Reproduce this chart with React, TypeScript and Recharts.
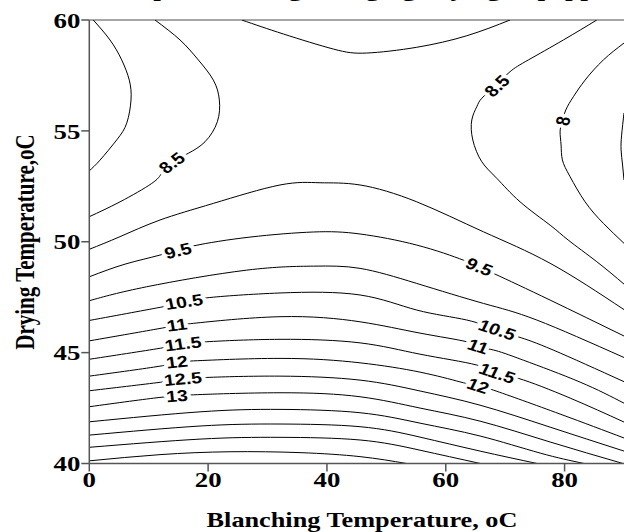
import { ComposedChart, Line, Scatter, XAxis, YAxis, ReferenceLine, Label } from "recharts";

// contour lines: [blanching °C, drying °C]
const c8Left: [number, number][] = [[0.67, 60], [3.48, 59.1], [5.45, 58.2], [6.73, 57.29], [7.02, 56.39], [6.3, 55.35], [4.61, 54.59], [1.8, 53.68], [0, 53.2]];
const c85Left: [number, number][] = [[11.06, 60], [15.27, 59.1], [18.35, 58.2], [20.88, 57.29], [21.89, 56.39], [21.55, 55.41], [19.48, 54.51], [16.67, 53.99], [13.92, 53.55], [12.19, 53.09], [10.51, 52.63], [5.17, 51.8], [0, 51.13]];
const c9Top: [number, number][] = [[25.66, 60], [32.66, 59.37], [41.08, 58.69], [46.7, 58.51], [55.12, 58.77], [63.54, 59.29], [70.82, 60]];
const c85Right: [number, number][] = [[85.42, 60], [79.8, 59.1], [73.91, 58.2], [70.82, 57.67], [68.3, 57.02], [66.06, 56.47], [65.22, 56.09], [64.38, 55.49], [64.55, 54.59], [66.06, 53.61], [68.59, 52.86], [72.51, 51.8], [77.56, 50.75], [80.59, 50.08], [85.42, 49.1], [90, 48.09]];
const c8Right: [number, number][] = [[90, 58.96], [86.53, 58.2], [83.45, 57.29], [81.48, 56.54], [80.2, 55.94], [79.58, 55.4], [79.24, 54.96], [79.41, 54.36], [79.63, 53.69], [80.93, 52.93], [83.45, 51.8], [86.53, 50.83], [90, 49.93]];
const c75Right: [number, number][] = [[90, 55.81], [89.6, 54.81], [89.51, 54.14], [89.76, 53.46], [90, 52.78]];
const c9: [number, number][] = [[0, 49.66], [5.17, 50.23], [11.9, 50.98], [20.88, 51.73], [32.1, 52.56], [38.84, 52.66], [45.57, 52.56], [55.12, 51.8], [66.33, 50.45], [77.56, 49.03], [90, 46.94]];
const c95: [number, number][] = [[0, 48.42], [6.01, 48.99], [11.9, 49.4], [17.51, 49.81], [27.05, 50.21], [37.71, 50.44], [45.57, 50.35], [55.12, 49.85], [62.96, 49.17], [65.61, 48.86], [68.3, 48.54], [77.56, 47.37], [90, 45.75]];
const c10: [number, number][] = [[0, 47.34], [9.66, 47.97], [26.5, 48.72], [37.71, 48.9], [45.57, 48.8], [55.12, 48.12], [66.33, 47.22], [75.32, 46.47], [90, 44.78]];
const c105: [number, number][] = [[0, 46.45], [12.46, 47.07], [16.11, 47.28], [19.76, 47.47], [32.1, 47.69], [45.57, 47.6], [55.12, 46.92], [63.54, 46.47], [68.59, 46.02], [72.22, 45.71], [78.06, 45.12], [90, 43.69]];
const c11: [number, number][] = [[0, 45.53], [11.9, 46.09], [14.76, 46.24], [17.51, 46.32], [32.1, 46.62], [45.57, 46.39], [55.67, 45.88], [63.54, 45.49], [65.44, 45.26], [68.01, 45.12], [73.06, 44.66], [82.61, 43.67], [90, 42.72]];
const c115: [number, number][] = [[0, 44.7], [12.46, 45.22], [15.77, 45.39], [19.76, 45.49], [32.1, 45.6], [45.57, 45.44], [55.67, 44.93], [65.22, 44.44], [68.59, 44.06], [72.22, 43.84], [80.93, 42.95], [90, 41.87]];
const c12: [number, number][] = [[0, 43.94], [11.9, 44.39], [14.76, 44.57], [16.95, 44.62], [32.1, 44.74], [45.57, 44.54], [55.67, 44.12], [62.41, 43.68], [65.44, 43.49], [68.01, 43.31], [79.24, 42.23], [90, 41.15]];
const c125: [number, number][] = [[0, 43.28], [12.46, 43.68], [15.77, 43.81], [19.76, 43.88], [32.1, 43.94], [45.57, 43.76], [55.67, 43.27], [65.77, 42.63], [77.56, 41.64], [90, 40.56]];
const c13: [number, number][] = [[0, 42.56], [11.9, 42.98], [14.76, 43.04], [16.95, 43.09], [32.1, 43.19], [45.57, 43.01], [55.67, 42.5], [65.77, 41.91], [77.56, 40.97], [89.83, 40]];
const c135: [number, number][] = [[0, 41.88], [18.64, 42.33], [32.1, 42.44], [45.57, 42.29], [55.67, 41.82], [65.77, 41.24], [75.88, 40.47], [83.28, 40]];
const c14: [number, number][] = [[0, 41.28], [18.64, 41.69], [32.1, 41.78], [45.57, 41.66], [55.67, 41.19], [65.77, 40.56], [75.37, 40]];
const c145: [number, number][] = [[0, 40.73], [18.64, 41.1], [32.1, 41.18], [45.57, 41.06], [55.67, 40.6], [65.82, 40]];
const c15: [number, number][] = [[0, 40.12], [11.9, 40.4], [23.69, 40.53], [35.47, 40.49], [45.57, 40.31], [53.4, 40]];

const contours = [c8Left, c85Left, c9Top, c85Right, c8Right, c75Right, c9, c95, c10, c105, c11, c115, c12, c125, c13, c135, c14, c145, c15];

// contour labels
const labelText = ["8.5", "9.5", "10.5", "11", "11.5", "12", "12.5", "13", "8.5", "8", "9.5", "10.5", "11", "11.5", "12"];
const labelX = [13.92, 14.93, 15.94, 14.76, 15.77, 14.76, 15.77, 14.76, 68.64, 79.75, 65.61, 68.64, 65.44, 68.64, 65.44];
const labelY = [53.55, 49.58, 47.28, 46.24, 45.39, 44.57, 43.81, 43.04, 57.02, 55.44, 48.86, 46.02, 45.27, 44.06, 43.49];

const xTicks = [0, 20, 40, 60, 80];
const yTicks = [40, 45, 50, 55, 60];

const labelAngle = [-42, -16, -10, -8, -8, -7, -6, -5, -48, -78, 26, 22, 21, 22, 22];

const labels = labelText.map((t, i) => ({ x: labelX[i], y: labelY[i], text: t, angle: labelAngle[i] }));

const serif = "'Liberation Serif', 'Times New Roman', serif";
const sans = "'Liberation Sans', Arial, sans-serif";
const STRETCH = 1.22;

function ContourLabel(props: any) {
  const { cx, cy, payload } = props;
  if (cx == null || cy == null) return null;
  return (
    <text
      transform={`translate(${cx},${cy}) scale(${STRETCH},1) rotate(${payload.angle})`}
      textAnchor="middle"
      dominantBaseline="central"
      fontFamily={sans}
      fontWeight="bold"
      fontSize={16}
      fill="#000"
      stroke="#fff"
      strokeWidth={7}
      strokeLinejoin="round"
      paintOrder="stroke"
    >
      {payload.text}
    </text>
  );
}

function YTick({ x, y, payload }: any) {
  return (
    <text transform={`translate(${x},${y}) scale(${STRETCH},1)`} textAnchor="end" dy="0.35em" fontFamily={serif} fontWeight="bold" fontSize={22} fill="#000">
      {payload.value}
    </text>
  );
}

function XTick({ x, y, payload }: any) {
  return (
    <text transform={`translate(${x},${y}) scale(${STRETCH},1)`} textAnchor="middle" dy="0.7em" fontFamily={serif} fontWeight="bold" fontSize={22} fill="#000">
      {payload.value}
    </text>
  );
}

function XTitle() {
  return (
    <g>
      <text transform={`translate(362,527) scale(1.25,1)`} textAnchor="middle" fontFamily={serif} fontWeight="bold" fontSize={21} fill="#000">
        Blanching Temperature, oC
      </text>
      <text transform={`translate(312,-4) scale(1.25,1)`} textAnchor="middle" fontFamily={serif} fontWeight="bold" fontSize={22} fill="#000">
        Response surface plot showing changing drying of pepper pulp
      </text>
    </g>
  );
}

function YTitle() {
  return (
    <text transform={`translate(34,242) scale(1.25,1) rotate(-90)`} textAnchor="middle" fontFamily={serif} fontWeight="bold" fontSize={21} fill="#000">
      Drying Temperature,oC
    </text>
  );
}

export default function App() {
  return (
    <div style={{ position: "absolute", left: 0, top: 0, background: "#fff" }}>
      <ComposedChart width={625} height={532} margin={{ top: 20, right: 1, left: 0, bottom: 0 }}>
        <XAxis
          type="number"
          dataKey="x"
          domain={[0, 90]}
          ticks={xTicks}
          allowDataOverflow
          height={68.5}
          tickSize={8}
          tickMargin={0}
          stroke="#555"
          strokeWidth={1.5}
          tick={<XTick />}
        >
          <Label content={<XTitle />} />
        </XAxis>
        <YAxis
          type="number"
          dataKey="y"
          domain={[40, 60]}
          ticks={yTicks}
          allowDataOverflow
          width={89.3}
          tickSize={8}
          tickMargin={1}
          stroke="#555"
          strokeWidth={1.5}
          tick={<YTick />}
        >
          <Label content={<YTitle />} />
        </YAxis>
        <ReferenceLine y={60} stroke="#888" strokeWidth={1.5} />
        {contours.map((c, i) => (
          <Line
            key={i}
            data={c.map(([x, y]) => ({ x, y }))}
            dataKey="y"
            type="natural"
            stroke="#000"
            strokeWidth={1}
            dot={false}
            activeDot={false}
            isAnimationActive={false}
          />
        ))}
        <Scatter data={labels} dataKey="y" shape={<ContourLabel />} isAnimationActive={false} />
      </ComposedChart>
    </div>
  );
}
